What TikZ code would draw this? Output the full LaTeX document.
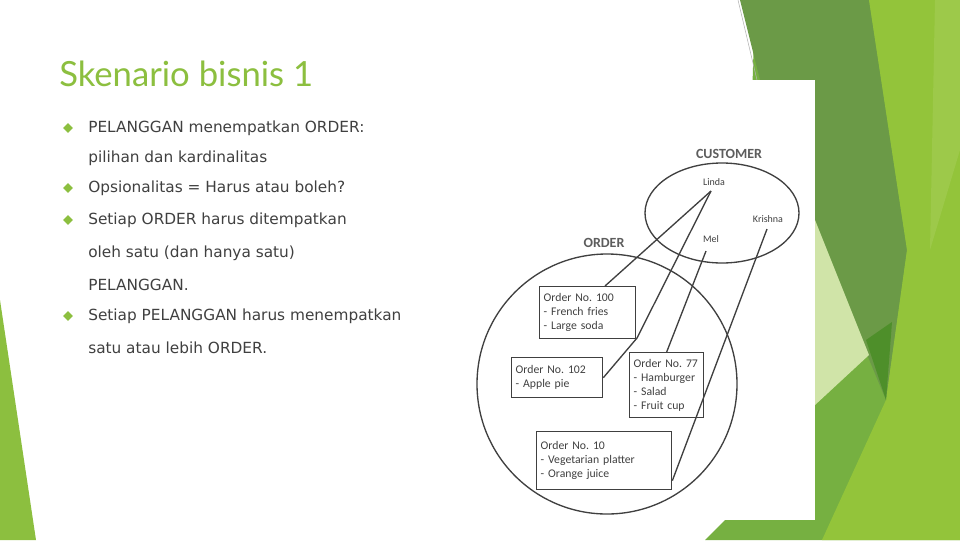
\documentclass[tikz,border=0pt]{standalone}
\usepackage{fontspec}
\setmainfont{DejaVu Sans}
\newfontfamily\boxfont{Carlito}
\newfontfamily\titlefont{Lato}
\usetikzlibrary{shapes.geometric}
\definecolor{tgreen}{HTML}{8CBF3F}
\definecolor{txt}{HTML}{404040}
\definecolor{dg}{HTML}{404040}
\definecolor{gA}{HTML}{76B041}
\definecolor{gB}{HTML}{6B9A47}
\definecolor{gC}{HTML}{D0E4A8}
\definecolor{gD}{HTML}{93C43A}
\definecolor{gE}{HTML}{4E8F2A}
\definecolor{gF}{HTML}{9DC94A}
\tikzset{
  bl/.style={anchor=west,text=txt,font=\fontsize{11.5}{13}\selectfont,inner sep=0pt},
  bul/.style={diamond,fill=tgreen,inner sep=0pt,minimum size=7.5pt},
  ob/.style={draw=dg,line width=1pt,align=left,anchor=north west,font=\boxfont\fontsize{8.8}{10.6}\selectfont,text=dg,inner xsep=3pt,inner ysep=2pt,text width=#1},
  lab/.style={font=\boxfont\fontsize{7.5}{9}\selectfont,text=dg},
  hd/.style={font=\boxfont\bfseries\fontsize{10.5}{12}\selectfont,text=dg!85},
  ln/.style={draw=dg,line width=1pt}
}
\begin{document}
\frenchspacing
\begin{tikzpicture}[x=0.75pt,y=-0.75pt]
\useasboundingbox (0,0) rectangle (960,540);
\fill[white] (0,0) rectangle (960,540);
\fill[tgreen] (0,300) -- (36,540) -- (0,540) -- cycle;
\fill[gA] (755,0) -- (960,0) -- (960,540) -- (705,540) -- (740,505) -- cycle;
\fill[gB] (740,0) -- (869,0) -- (907,250) -- (886,400) -- (815,230) -- (760,80) -- cycle;
\fill[gC] (815,220) -- (869,355) -- (815,405) -- cycle;
\fill[gD] (869,0) -- (960,0) -- (960,540) -- (822,540) -- (886,400) -- (907,250) -- cycle;
\fill[gF] (935,0) -- (960,0) -- (960,150) -- (930,250) -- cycle;
\fill[gE] (866,340) -- (892,322) -- (886,400) -- cycle;
\draw[gray!60,line width=0.4pt] (738,0) -- (757,80);
\fill[white] (480,80) rectangle (815,520);
\node[anchor=west,text=tgreen,font=\titlefont\fontsize{26}{30}\selectfont,inner sep=0pt] (title) at (59,74) {Skenario bisnis 1};
\node[bul] (b1) at (68,128) {};
\node[bl] (t1) at (88,128) {PELANGGAN menempatkan ORDER:};
\node[bl] (t1b) at (88,158) {pilihan dan kardinalitas};
\node[bul] (b2) at (68,188) {};
\node[bl] (t2) at (88,188) {Opsionalitas = Harus atau boleh?};
\node[bul] (b3) at (68,220) {};
\node[bl] (t3) at (88,220) {Setiap ORDER harus ditempatkan};
\node[bl] (t3b) at (88,253) {oleh satu (dan hanya satu)};
\node[bl] (t3c) at (88,285) {PELANGGAN.};
\node[bul] (b4) at (68,316) {};
\node[bl] (t4) at (88,316) {Setiap PELANGGAN harus menempatkan};
\node[bl] (t4b) at (88,348) {satu atau lebih ORDER.};
\node[hd] (cust) at (729,154) {CUSTOMER};
\draw[dg,line width=1pt] (722,213) ellipse [x radius=77*0.75pt, y radius=50*0.75pt];
\node[hd] (ord) at (604,243) {ORDER};
\draw[dg,line width=1pt] (607,384) circle [radius=130*0.75pt];
\node[lab] (linda) at (714,182) {Linda};
\node[lab] (krishna) at (768,219) {Krishna};
\node[lab] (mel) at (711,239) {Mel};
\coordinate (lp) at (711,191);
\coordinate (kp) at (767,229);
\coordinate (mp) at (706,251);
\node[ob=88*0.75pt,minimum height=52*0.75pt] (o100) at (539,286) {Order No. 100\\- French fries\\- Large soda};
\node[ob=83*0.75pt,minimum height=40*0.75pt] (o102) at (511,357) {Order No. 102\\- Apple pie};
\node[ob=66*0.75pt,minimum height=65*0.75pt] (o77) at (629,352) {\mbox{Order No. 77}\\- Hamburger\\- Salad\\- Fruit cup};
\node[ob=127*0.75pt,minimum height=58*0.75pt] (o10) at (536,431) {Order No. 10\\- Vegetarian platter\\- Orange juice};
\coordinate (t100) at (605,286);
\coordinate (bend) at (637,338);
\draw[ln] (lp) -- (t100);
\draw[ln] (lp) -- (bend) -- (o102.east);
\draw[ln] (mp) -- (o77.north);
\draw[ln] (kp) -- ([yshift=-15pt]o10.east);
\end{tikzpicture}
\end{document}
